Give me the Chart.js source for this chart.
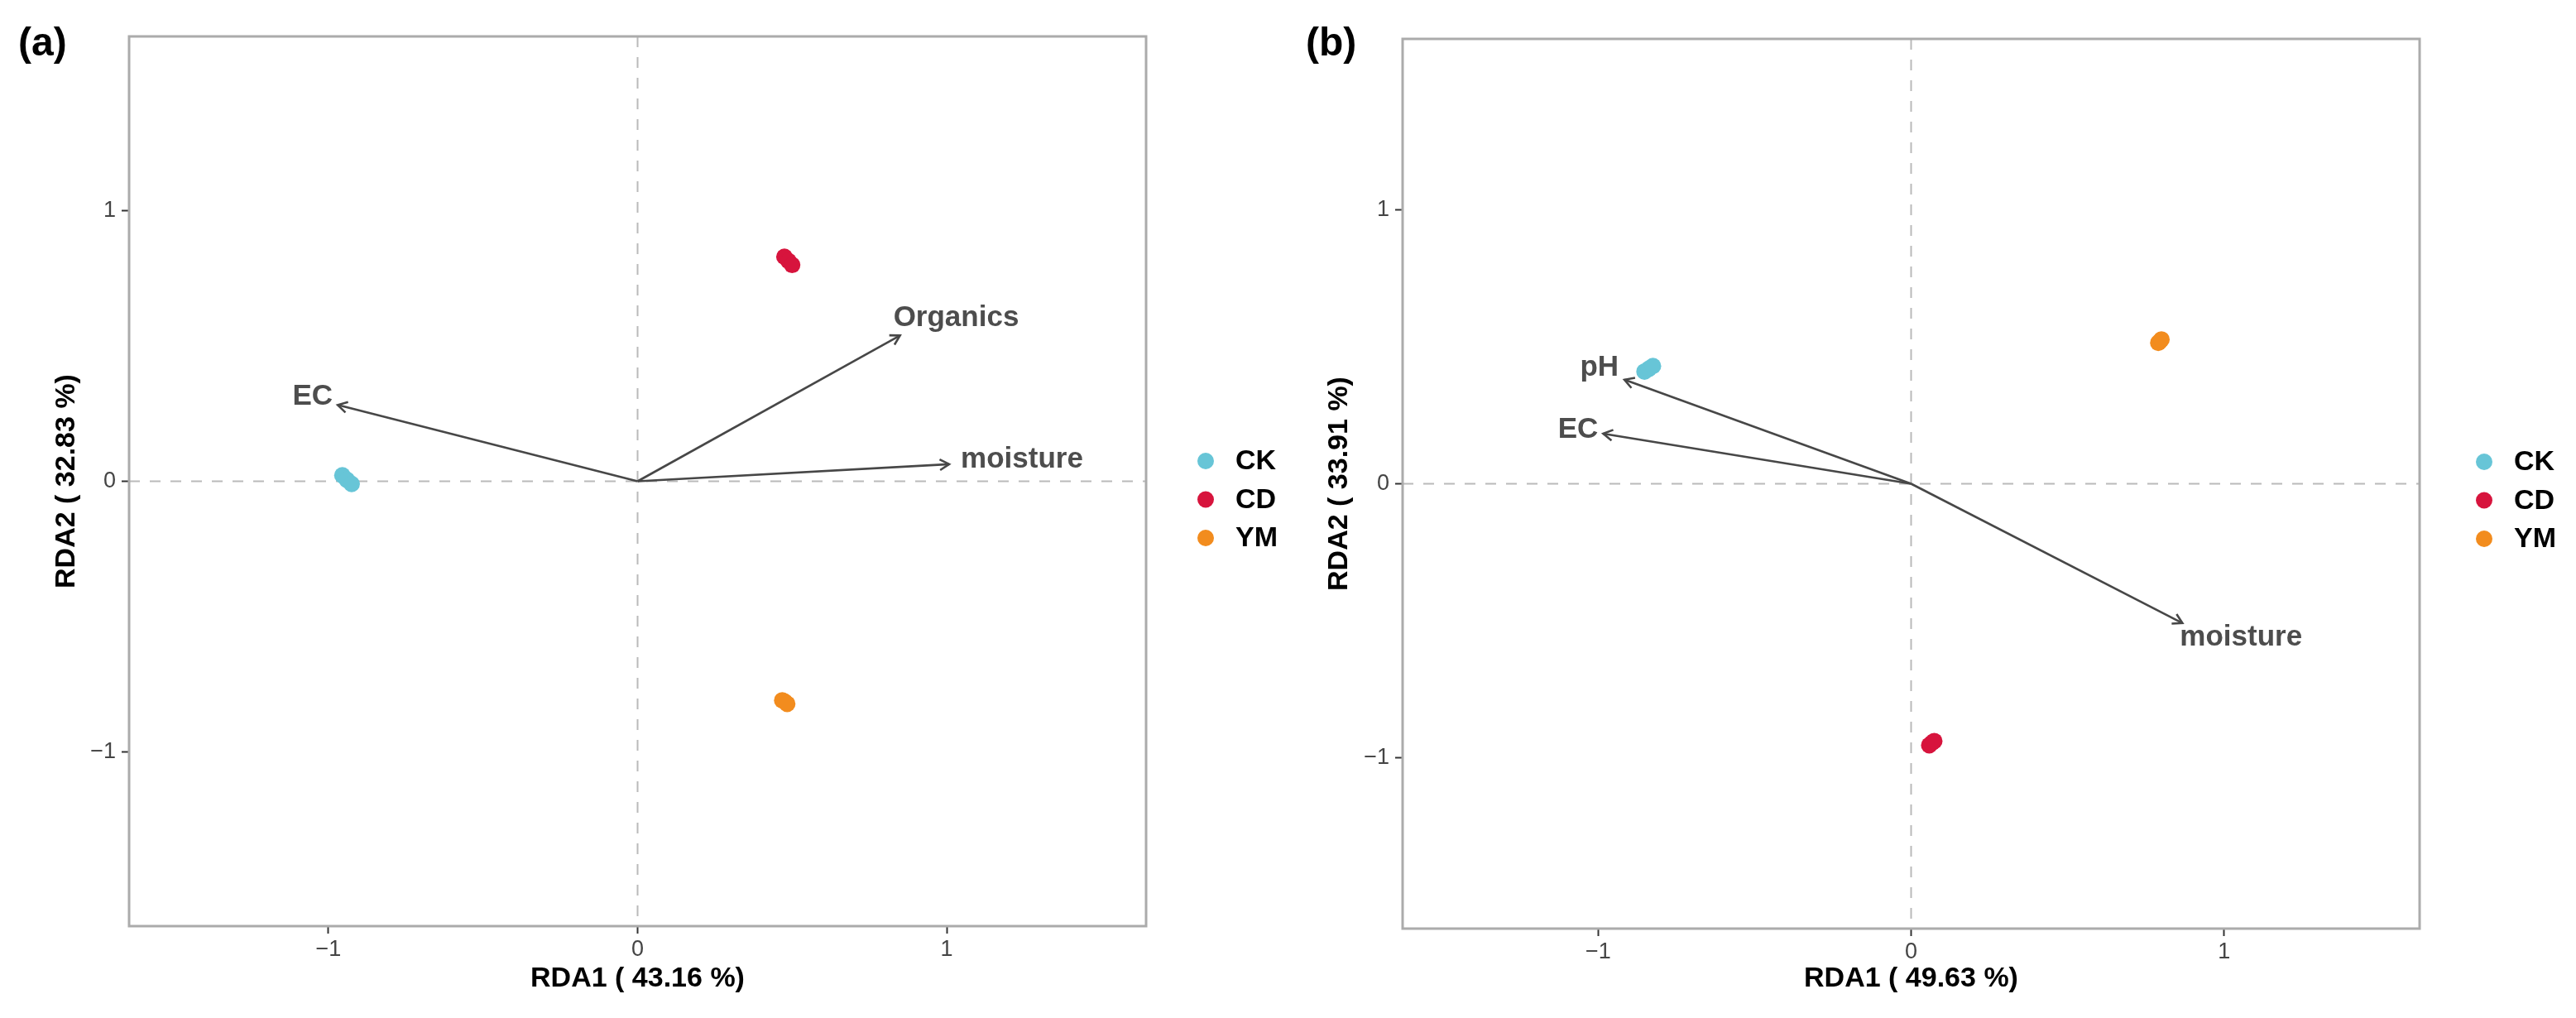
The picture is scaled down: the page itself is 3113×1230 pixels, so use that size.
<!DOCTYPE html>
<html>
<head>
<meta charset="utf-8">
<script src="https://cdn.jsdelivr.net/npm/chart.js@4.4.1/dist/chart.umd.min.js"></script>
<style>
  html, body { margin: 0; padding: 0; background: #fff; }
  #wrap { position: relative; width: 3113px; height: 1230px; }
  .panel { position: absolute; top: 0; height: 1230px; }
  #panelA { left: 0; width: 1556px; }
  #panelB { left: 1556px; width: 1557px; }
</style>
</head>
<body>
<div id="wrap">
  <div class="panel" id="panelA"><canvas id="chartA" width="1556" height="1230"></canvas></div>
  <div class="panel" id="panelB"><canvas id="chartB" width="1557" height="1230"></canvas></div>
</div>
<script>
// groups
const groupNames = ["CK", "CD", "YM"];
const groupColors = ["#67C5D7", "#D7143D", "#F28C1E"];

// (a) sample scores, [RDA1, RDA2] per replicate
const aCK = [[-0.955, 0.022], [-0.94, 0.005], [-0.925, -0.01]];
const aCD = [[0.475, 0.83], [0.488, 0.815], [0.5, 0.8]];
const aYM = [[0.468, -0.81], [0.476, -0.815], [0.484, -0.823]];
// (a) environmental factors
const aVarNames = ["EC", "Organics", "moisture"];
const aVarX = [-0.97, 0.849, 1.008];
const aVarY = [0.282, 0.539, 0.063];

// (b) sample scores
const bCK = [[-0.852, 0.41], [-0.838, 0.42], [-0.825, 0.43]];
const bCD = [[0.058, -0.955], [0.066, -0.947], [0.074, -0.94]];
const bYM = [[0.79, 0.515], [0.795, 0.52], [0.8, 0.527]];
// (b) environmental factors
const bVarNames = ["pH", "EC", "moisture"];
const bVarX = [-0.916, -0.984, 0.867];
const bVarY = [0.38, 0.183, -0.509];

const axisTicks = [-1, 0, 1];
const aTitles = ["RDA1 ( 43.16 %)", "RDA2 ( 32.83 %)"];
const bTitles = ["RDA1 ( 49.63 %)", "RDA2 ( 33.91 %)"];

const FONT = "'Liberation Sans', Arial, Helvetica, sans-serif";

function fmtTick(v) {
  return v < 0 ? "\u2212" + Math.abs(v) : String(v);
}

// draws zero lines, arrow heads, arrow labels, frame, legend and panel tag
const rdaExtras = {
  id: "rdaExtras",
  beforeDatasetsDraw(chart, args, opts) {
    const ctx = chart.ctx;
    const area = chart.chartArea;
    const x0 = chart.scales.x.getPixelForValue(0);
    const y0 = chart.scales.y.getPixelForValue(0);
    ctx.save();
    ctx.strokeStyle = "#bababa";
    ctx.lineWidth = 2;
    ctx.setLineDash([13, 12]);
    ctx.beginPath();
    ctx.moveTo(area.left, y0);
    ctx.lineTo(area.right, y0);
    ctx.moveTo(x0, area.top);
    ctx.lineTo(x0, area.bottom);
    ctx.stroke();
    ctx.restore();
  },
  afterDatasetsDraw(chart, args, opts) {
    const ctx = chart.ctx;
    const xs = chart.scales.x, ys = chart.scales.y;
    const x0 = xs.getPixelForValue(0), y0 = ys.getPixelForValue(0);
    ctx.save();
    opts.varX.forEach((vx, i) => {
      const px = xs.getPixelForValue(vx);
      const py = ys.getPixelForValue(opts.varY[i]);
      const ang = Math.atan2(py - y0, px - x0);
      ctx.strokeStyle = "#474747";
      ctx.lineWidth = 2.6;
      ctx.beginPath();
      ctx.moveTo(px - 13 * Math.cos(ang - Math.PI / 6), py - 13 * Math.sin(ang - Math.PI / 6));
      ctx.lineTo(px, py);
      ctx.lineTo(px - 13 * Math.cos(ang + Math.PI / 6), py - 13 * Math.sin(ang + Math.PI / 6));
      ctx.stroke();

      const lp = opts.labelPos[i];
      ctx.fillStyle = "#4d4d4d";
      ctx.font = "bold 35px " + FONT;
      ctx.textAlign = lp.align;
      ctx.textBaseline = "alphabetic";
      ctx.fillText(opts.varNames[i], px + lp.dx, py + lp.dy);
    });

    const a = chart.chartArea;
    ctx.strokeStyle = "#ababab";
    ctx.lineWidth = 3;
    ctx.setLineDash([]);
    ctx.strokeRect(a.left, a.top, a.right - a.left, a.bottom - a.top);
    ctx.restore();
  },
  afterDraw(chart, args, opts) {
    const ctx = chart.ctx;
    const a = chart.chartArea;
    ctx.save();
    groupNames.forEach((name, i) => {
      const cx = a.right + opts.legendDx;
      const cy = opts.legendY + i * 46.5;
      ctx.fillStyle = groupColors[i];
      ctx.beginPath();
      ctx.arc(cx, cy, 10, 0, Math.PI * 2);
      ctx.fill();
      ctx.fillStyle = "#000";
      ctx.font = "bold 34px " + FONT;
      ctx.textAlign = "left";
      ctx.textBaseline = "middle";
      ctx.fillText(name, cx + 36, cy + 1);
    });
    ctx.fillStyle = "#000";
    ctx.font = "bold 48px " + FONT;
    ctx.textAlign = "left";
    ctx.textBaseline = "alphabetic";
    ctx.fillText(opts.tag, opts.tagX, 67);
    ctx.restore();
  }
};

function makeChart(id, cfg) {
  const datasets = [];
  cfg.groups.forEach((pts, i) => {
    datasets.push({
      label: groupNames[i],
      data: pts.map(p => ({ x: p[0], y: p[1] })),
      backgroundColor: groupColors[i],
      borderColor: groupColors[i],
      borderWidth: 0,
      pointRadius: 10,
      pointHoverRadius: 10,
      order: 1
    });
  });
  cfg.varX.forEach((vx, i) => {
    datasets.push({
      label: cfg.varNames[i],
      data: [{ x: 0, y: 0 }, { x: vx, y: cfg.varY[i] }],
      showLine: true,
      pointRadius: 0,
      borderColor: "#474747",
      borderWidth: 2.6,
      order: 0
    });
  });

  return new Chart(document.getElementById(id), {
    type: "scatter",
    data: { datasets: datasets },
    options: {
      responsive: false,
      animation: false,
      devicePixelRatio: 1,
      layout: { padding: { left: 0, top: cfg.top, right: cfg.right, bottom: 0 } },
      plugins: {
        legend: { display: false },
        tooltip: { enabled: false },
        rdaExtras: {
          varX: cfg.varX, varY: cfg.varY, varNames: cfg.varNames,
          labelPos: cfg.labelPos, legendDx: cfg.legendDx, legendY: cfg.legendY,
          tag: cfg.tag, tagX: cfg.tagX
        }
      },
      scales: {
        x: {
          type: "linear",
          min: -cfg.range,
          max: cfg.range,
          afterBuildTicks: s => { s.ticks = axisTicks.map(v => ({ value: v })); },
          afterFit: s => { s.height = cfg.xAxisH; },
          ticks: { color: "#444", font: { size: 27, family: FONT }, padding: 3, maxRotation: 0, autoSkip: false, callback: v => fmtTick(v) },
          grid: { drawOnChartArea: false, drawTicks: true, tickLength: 9, tickColor: "#333", tickWidth: 2 },
          border: { display: false },
          title: { display: true, text: cfg.titles[0], color: "#000", font: { size: 34, weight: "bold", family: FONT }, padding: { top: 0, bottom: 27 } }
        },
        y: {
          type: "linear",
          min: -cfg.range,
          max: cfg.range,
          afterBuildTicks: s => { s.ticks = axisTicks.map(v => ({ value: v })); },
          afterFit: s => { s.width = cfg.yAxisW; },
          ticks: { color: "#444", font: { size: 27, family: FONT }, padding: 7, autoSkip: false, callback: v => fmtTick(v) },
          grid: { drawOnChartArea: false, drawTicks: true, tickLength: 9, tickColor: "#333", tickWidth: 2 },
          border: { display: false },
          title: { display: true, text: cfg.titles[1], color: "#000", font: { size: 34, weight: "bold", family: FONT }, padding: { top: cfg.yTitlePad, bottom: 0 } }
        }
      }
    },
    plugins: [rdaExtras]
  });
}

makeChart("chartA", {
  groups: [aCK, aCD, aYM],
  varX: aVarX, varY: aVarY, varNames: aVarNames,
  labelPos: [
    { align: "right", dx: -6, dy: 0 },
    { align: "left", dx: -8, dy: -11 },
    { align: "left", dx: 14, dy: 4 }
  ],
  titles: aTitles,
  range: 1.645,
  top: 44, right: 171, xAxisH: 111, yAxisW: 156, yTitlePad: 60,
  legendDx: 72, legendY: 557,
  tag: "(a)", tagX: 22
});

makeChart("chartB", {
  groups: [bCK, bCD, bYM],
  varX: bVarX, varY: bVarY, varNames: bVarNames,
  labelPos: [
    { align: "right", dx: -7, dy: -5 },
    { align: "right", dx: -6, dy: 5 },
    { align: "left", dx: -3, dy: 27 }
  ],
  titles: bTitles,
  range: 1.625,
  top: 47, right: 189, xAxisH: 108, yAxisW: 139, yTitlePad: 42,
  legendDx: 78, legendY: 558,
  tag: "(b)", tagX: 22
});
</script>
</body>
</html>
